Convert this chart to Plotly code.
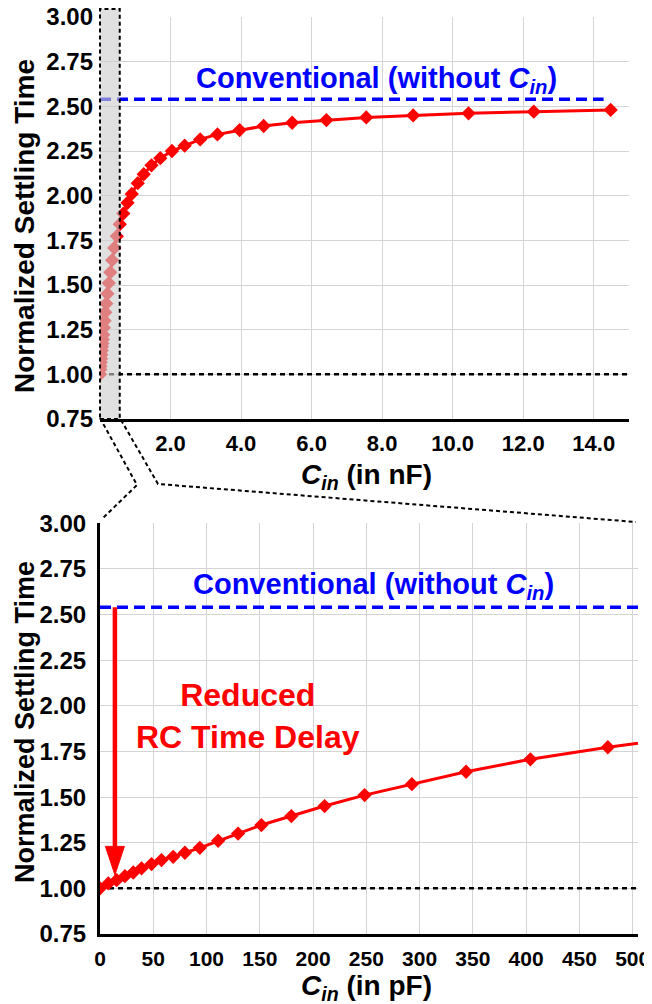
import plotly.graph_objects as go

# ---------------- data ----------------
cin_pf = [0, 7.8, 15.6, 23.4, 31.2, 39.0, 48.4, 57.7, 68.7, 79.7, 93.7, 110.9,
          129.6, 151.5, 179.6, 210.8, 248.4, 292.7, 343.6, 404.0, 476.7, 561.0]
settle_pf = [1.00, 1.027, 1.045, 1.067, 1.087, 1.110, 1.133, 1.155, 1.173, 1.195,
             1.222, 1.261, 1.300, 1.347, 1.396, 1.451, 1.511, 1.571, 1.639, 1.707,
             1.773, 1.840]
cin_nf = [0.66, 0.78, 0.90, 1.07, 1.24, 1.46, 1.71, 2.04, 2.40, 2.84, 3.33, 3.96,
          4.64, 5.45, 6.42, 7.55, 8.88, 10.45, 12.30, 14.48]
settle_nf = [1.90, 1.96, 2.01, 2.07, 2.12, 2.17, 2.21, 2.25, 2.28, 2.315, 2.343,
             2.367, 2.39, 2.408, 2.423, 2.438, 2.449, 2.461, 2.470, 2.480]
conventional_level = 2.54
ideal_level = 1.00

y_ticks = [0.75, 1.00, 1.25, 1.50, 1.75, 2.00, 2.25, 2.50, 2.75, 3.00]
nf_ticks = [2, 4, 6, 8, 10, 12, 14]
nf_labels = ["2.0", "4.0", "6.0", "8.0", "10.0", "12.0", "14.0"]
pf_ticks = [0, 50, 100, 150, 200, 250, 300, 350, 400, 450, 500]

top_x_all = [p / 1000.0 for p in cin_pf] + cin_nf
top_y_all = settle_pf + settle_nf

# ---------------- layout geometry ----------------
# the page body has an 8px margin, so the figure is 8px smaller than the window
OFF = 8
W, H = 652 - OFF, 1004 - OFF
ML, MR, MT, MB = 100 - OFF, 14, 17 - OFF, 70
PW, PH = W - ML - MR, H - MT - MB
PLOT_LEFT, PLOT_BOTTOM = 100, 934  # page pixels


def PX(x):
    return (x - PLOT_LEFT) / PW


def PY(y):
    return (PLOT_BOTTOM - y) / PH


top_xdom = [0, PX(629)]
top_ydom = [PY(419), 1.0]
bot_ydom = [0, PY(523.3)]
top_xr = [0, 15]
yr = [0.75, 3.0]
bot_xr = [0, 505]


def top_paper_x(v):
    return top_xdom[0] + (v - top_xr[0]) / (top_xr[1] - top_xr[0]) * (top_xdom[1] - top_xdom[0])


def top_paper_y(v):
    return top_ydom[0] + (v - yr[0]) / (yr[1] - yr[0]) * (top_ydom[1] - top_ydom[0])


FONT = "Liberation Sans, Arial, Helvetica, sans-serif"
RED = "#ff0000"
BLUE = "#0000ff"
GRID = "#d4d4d4"

fig = go.Figure()

# ---------------- top panel ----------------
fig.add_trace(go.Scatter(x=[top_xr[0], top_xr[1]], y=[ideal_level, ideal_level],
                         mode="lines", line=dict(color="black", width=2.5, dash="5px,4px"),
                         xaxis="x", yaxis="y", showlegend=False, hoverinfo="skip"))
fig.add_trace(go.Scatter(x=[0, cin_nf[-1] - 0.2], y=[conventional_level, conventional_level],
                         mode="lines", line=dict(color=BLUE, width=3.5, dash="11px,6px"),
                         xaxis="x", yaxis="y", showlegend=False, hoverinfo="skip"))
fig.add_trace(go.Scatter(x=top_x_all, y=top_y_all, mode="lines+markers",
                         line=dict(color=RED, width=3),
                         marker=dict(symbol="diamond", size=11, color=RED),
                         xaxis="x", yaxis="y", showlegend=False))

# ---------------- bottom panel ----------------
fig.add_trace(go.Scatter(x=[bot_xr[0], bot_xr[1]], y=[ideal_level, ideal_level],
                         mode="lines", line=dict(color="black", width=2.5, dash="5px,4px"),
                         xaxis="x2", yaxis="y2", showlegend=False, hoverinfo="skip"))
fig.add_trace(go.Scatter(x=[bot_xr[0], bot_xr[1]], y=[conventional_level, conventional_level],
                         mode="lines", line=dict(color=BLUE, width=3.5, dash="11px,6px"),
                         xaxis="x2", yaxis="y2", showlegend=False, hoverinfo="skip"))
fig.add_trace(go.Scatter(x=cin_pf, y=settle_pf, mode="lines+markers",
                         line=dict(color=RED, width=3),
                         marker=dict(symbol="diamond", size=11, color=RED),
                         xaxis="x2", yaxis="y2", showlegend=False))

tickfont = dict(family=FONT, size=24, color="black", weight="bold")

fig.update_layout(
    width=W, height=H,
    margin=dict(l=ML, r=MR, t=MT, b=MB, autoexpand=False),
    paper_bgcolor="white", plot_bgcolor="white",
    font=dict(family=FONT, color="black"),
    xaxis=dict(domain=top_xdom, range=top_xr, anchor="y", automargin=False,
               tickvals=nf_ticks, ticktext=nf_labels,
               tickfont=dict(family=FONT, size=22, color="black", weight="bold"),
               showgrid=True, gridcolor=GRID, gridwidth=1,
               showline=True, linecolor="black", linewidth=3,
               ticks="", ticklabelstandoff=3, ticklabeloverflow="allow", zeroline=False),
    yaxis=dict(domain=top_ydom, range=yr, anchor="x", automargin=False,
               tickvals=y_ticks, tickformat=".2f", tickfont=tickfont,
               showgrid=True, gridcolor=GRID, gridwidth=1,
               showline=False, ticks="", ticklabelstandoff=6,
               ticklabeloverflow="allow", zeroline=False),
    xaxis2=dict(domain=[0, 1], range=bot_xr, anchor="y2", automargin=False,
                tickvals=pf_ticks,
                tickfont=dict(family=FONT, size=21, color="black", weight="bold"),
                showgrid=True, gridcolor=GRID, gridwidth=1,
                showline=True, linecolor="black", linewidth=3,
                ticks="", ticklabelstandoff=4, ticklabeloverflow="allow", zeroline=False),
    yaxis2=dict(domain=bot_ydom, range=yr, anchor="x2", automargin=False,
                tickvals=y_ticks, tickformat=".2f", tickfont=tickfont,
                showgrid=True, gridcolor=GRID, gridwidth=1,
                showline=True, linecolor="black", linewidth=3,
                ticks="", ticklabelstandoff=6, ticklabeloverflow="allow", zeroline=False),
)

# ---------------- shapes ----------------
zoom_x1 = 0.56  # nF, extent of the zoomed region
shapes = []
shapes.append(dict(type="rect", xref="paper", yref="paper",
                   x0=top_paper_x(0), x1=top_paper_x(zoom_x1),
                   y0=top_paper_y(0.75), y1=PY(OFF + 1),
                   fillcolor="rgba(205,205,205,0.62)",
                   line=dict(color="black", width=2, dash="4px,3px"), layer="above"))
shapes.append(dict(type="path", xref="paper", yref="paper",
                   path="M {} {} L {} {} L {} {}".format(PX(100), PY(418), PX(137), PY(485),
                                                         PX(103), PY(518)),
                   line=dict(color="black", width=2, dash="4px,3px"), layer="above"))
shapes.append(dict(type="path", xref="paper", yref="paper",
                   path="M {} {} L {} {} L {} {}".format(PX(121), PY(420), PX(158), PY(484),
                                                         PX(636), PY(522)),
                   line=dict(color="black", width=2, dash="4px,3px"), layer="above"))
arrow_x = 14
shapes.append(dict(type="line", xref="x2", yref="y2", x0=arrow_x, x1=arrow_x,
                   y0=conventional_level, y1=1.23, line=dict(color=RED, width=4.5)))
shapes.append(dict(type="path", xref="x2", yref="y2",
                   path="M {} {} L {} {} L {} {} Z".format(arrow_x - 8.9, 1.23, arrow_x + 8.9, 1.23,
                                                           arrow_x, 1.074),
                   fillcolor=RED, line=dict(color=RED, width=1)))
fig.update_layout(shapes=shapes)

# ---------------- annotations ----------------
conv_text = "<b>Conventional (without <i>C</i><sub><i>in</i></sub>)</b>"
ann = []
ann.append(dict(text=conv_text, xref="x", yref="y", x=7.83, y=2.648, showarrow=False,
                font=dict(family=FONT, size=29, color=BLUE), xanchor="center", yanchor="middle"))
ann.append(dict(text=conv_text, xref="x2", yref="y2", x=257, y=2.656, showarrow=False,
                font=dict(family=FONT, size=29, color=BLUE), xanchor="center", yanchor="middle"))
ann.append(dict(text="<b>Reduced<br>RC Time Delay</b>", xref="x2", yref="y2", x=139, y=1.944,
                showarrow=False, font=dict(family=FONT, size=32, color=RED),
                xanchor="center", yanchor="middle"))
ann.append(dict(text="<b>Normalized Settling Time</b>", xref="paper", yref="paper",
                x=PX(25), y=PY(226), textangle=-90, showarrow=False,
                font=dict(family=FONT, size=28, color="black"), xanchor="center", yanchor="middle"))
ann.append(dict(text="<b>Normalized Settling Time</b>", xref="paper", yref="paper",
                x=PX(25), y=PY(722), textangle=-90, showarrow=False,
                font=dict(family=FONT, size=27, color="black"), xanchor="center", yanchor="middle"))
ann.append(dict(text="<b><i>C</i><sub><i>in</i></sub> (in nF)</b>", xref="paper", yref="paper",
                x=PX(366), y=PY(476), showarrow=False,
                font=dict(family=FONT, size=28, color="black"), xanchor="center", yanchor="middle"))
ann.append(dict(text="<b><i>C</i><sub><i>in</i></sub> (in pF)</b>", xref="paper", yref="paper",
                x=PX(366), y=PY(988), showarrow=False,
                font=dict(family=FONT, size=28, color="black"), xanchor="center", yanchor="middle"))
fig.update_layout(annotations=ann)

fig.write_html("out.html")
